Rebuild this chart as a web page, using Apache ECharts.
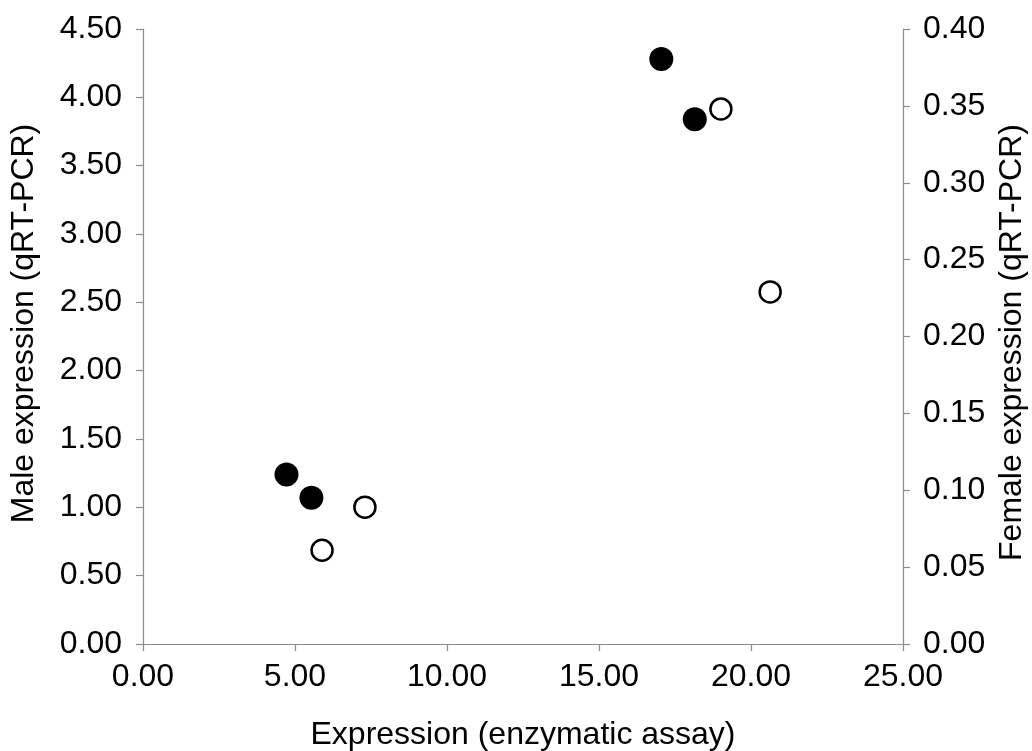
<!DOCTYPE html>
<html>
<head>
<meta charset="utf-8">
<script src="https://cdn.jsdelivr.net/npm/echarts@6/dist/echarts.min.js"></script>
<style>html,body{margin:0;padding:0;background:#fff}#c{width:1032px;height:751px}</style>
</head>
<body>
<div id="c"></div>
<script>
// Male (left axis, filled circles): [enzymatic assay, qRT-PCR]
const maleX = [4.72, 5.54, 17.05, 18.15];
const maleY = [1.24, 1.07, 4.28, 3.84];
// Female (right axis, open circles)
const femaleX = [7.30, 5.89, 19.01, 20.63];
const femaleY = [0.089, 0.061, 0.348, 0.229];

const xTitle = 'Expression (enzymatic assay)';
const leftTitle = 'Male expression (qRT-PCR)';
const rightTitle = 'Female expression (qRT-PCR)';

const font = 'Liberation Sans, Arial, Helvetica, sans-serif';
const axisGray = '#8c8c8c';
const fs = 32;
const fmt = v => v.toFixed(2);

const chart = echarts.init(document.getElementById('c'), null, {renderer: 'canvas'});
chart.setOption({
  animation: false,
  backgroundColor: '#fff',
  grid: {left: 143, right: 129, top: 29, bottom: 107, containLabel: false, outerBoundsMode: 'none'},
  xAxis: {
    type: 'value', min: 0, max: 25, interval: 5,
    name: xTitle, nameLocation: 'middle', nameGap: 75,
    nameTextStyle: {fontFamily: font, fontSize: fs, color: '#000'},
    axisLine: {show: true, lineStyle: {color: axisGray, width: 1.2}},
    axisTick: {show: true, length: 7, inside: false, lineStyle: {color: axisGray, width: 1.2}},
    axisLabel: {formatter: fmt, fontFamily: font, fontSize: fs, color: '#000', margin: 17},
    splitLine: {show: false}
  },
  yAxis: [
    {
      type: 'value', min: 0, max: 4.5, interval: 0.5, position: 'left',
      name: leftTitle, nameLocation: 'middle', nameGap: 103, nameRotate: 90,
      nameTextStyle: {fontFamily: font, fontSize: fs, color: '#000', padding: [0, 0, 0, 26]},
      axisLine: {show: true, onZero: false, lineStyle: {color: axisGray, width: 1.2}},
      axisTick: {show: true, length: 7, lineStyle: {color: axisGray, width: 1.2}},
      axisLabel: {formatter: fmt, fontFamily: font, fontSize: fs, color: '#000', margin: 21},
      splitLine: {show: false}
    },
    {
      type: 'value', min: 0, max: 0.4, interval: 0.05, position: 'right',
      name: rightTitle, nameLocation: 'middle', nameGap: 91, nameRotate: 90,
      nameTextStyle: {fontFamily: font, fontSize: fs, color: '#000', padding: [0, 12, 0, 0]},
      axisLine: {show: true, onZero: false, lineStyle: {color: axisGray, width: 1.2}},
      axisTick: {show: true, length: 7, lineStyle: {color: axisGray, width: 1.2}},
      axisLabel: {formatter: fmt, fontFamily: font, fontSize: fs, color: '#000', margin: 20},
      splitLine: {show: false}
    }
  ],
  series: [
    {
      type: 'scatter', yAxisIndex: 0, symbol: 'circle', symbolSize: 24,
      itemStyle: {color: '#000', opacity: 1},
      data: maleX.map((x, i) => [x, maleY[i]]),
      z: 3
    },
    {
      type: 'scatter', yAxisIndex: 1, symbol: 'circle', symbolSize: 21,
      itemStyle: {color: '#fff', borderColor: '#000', borderWidth: 2.5, opacity: 1},
      data: femaleX.map((x, i) => [x, femaleY[i]]),
      z: 3
    }
  ]
});
</script>
</body>
</html>
